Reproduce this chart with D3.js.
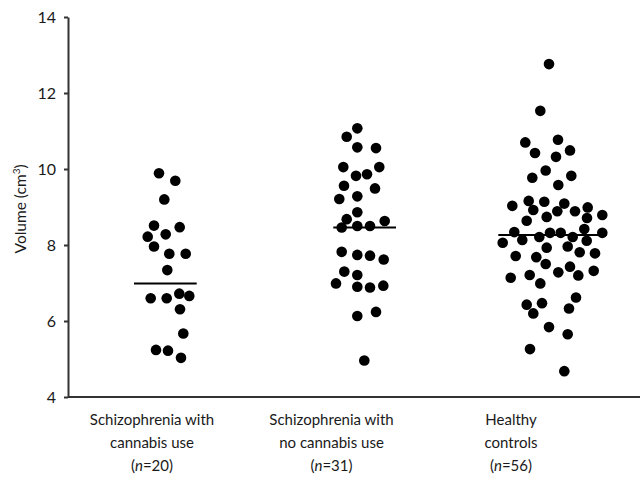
<!DOCTYPE html>
<html>
<head>
<meta charset="utf-8">
<script src="https://cdn.jsdelivr.net/npm/d3@7"></script>
<style>
  body { margin: 0; background: #fff; }
  text { font-family: Lato, "Open Sans", sans-serif; fill: #1a1a1a; }
  .axis path, .axis line { stroke: #333; stroke-width: 2; }
</style>
</head>
<body>
<div id="chart"></div>
<script>
const width = 640;
const height = 483;
const margin = { top: 17, right: 0, bottom: 86, left: 68 };

const groups = ["cannabis", "noCannabis", "controls"];
const labelLine1 = ["Schizophrenia with", "Schizophrenia with", "Healthy"];
const labelLine2 = ["cannabis use", "no cannabis use", "controls"];
const groupN = [20, 31, 56];
const yTicks = [4, 6, 8, 10, 12, 14];

// volumes (cm3), with horizontal jitter (about one dot width per unit)
const cannabisVol = [9.89, 9.69, 9.20, 8.51, 8.47, 8.22, 8.28, 7.96, 7.77, 7.77, 7.34,
  6.60, 6.60, 6.72, 6.66, 6.31, 5.67, 5.24, 5.22, 5.03];
const cannabisJit = [-0.43, 1.2, 0.1, -0.93, 1.64, -1.56, 0.24, -0.93, 0.6, 2.24, 0.4,
  -1.26, 0.34, 1.6, 2.6, 1.67, 2.0, -0.73, 0.47, 1.77];

const noCannabisVol = [11.07, 10.85, 10.57, 10.55, 10.05, 10.05, 9.82, 9.86, 9.56, 9.49,
  9.21, 9.28, 8.86, 8.68, 8.63, 8.46, 8.50, 8.50, 7.82, 7.74, 7.72, 7.62, 7.30, 7.21,
  6.99, 6.90, 6.88, 6.93, 6.24, 6.13, 4.96];
const noCannabisJit = [0.33, -0.73, 0.33, 2.2, -1.07, 2.53, 0.2, 1.3, -1.0, 2.1,
  -1.47, 0.33, 0.33, -0.73, 3.07, -1.23, 0.33, 1.6, -1.23, 0.33, 1.6, 2.97, -0.97, 0.33,
  -1.8, 0.33, 1.6, 2.93, 2.2, 0.33, 1.03];

const controlsVol = [12.76, 11.53, 10.70, 10.77, 10.42, 10.49, 10.32, 9.96, 9.77, 9.82,
  9.58, 9.03, 9.16, 9.14, 9.09, 8.92, 8.89, 8.89, 8.99, 8.74, 8.71, 8.79, 8.64, 8.42,
  8.34, 8.32, 8.32, 8.32, 8.06, 8.13, 8.21, 8.21, 8.11, 7.93, 7.96, 7.71, 7.68, 7.81,
  7.78, 7.50, 7.43, 7.14, 7.21, 7.28, 7.20, 7.32, 6.99, 6.62, 6.43, 6.47, 6.33, 6.20,
  5.84, 5.65, 5.26, 4.68];
const controlsJit = [0.43, -0.44, -1.94, 1.33, -0.97, 2.53, 1.13, 0.1, -1.24, 2.66,
  1.36, -3.24, -1.6, -0.04, 1.96, -1.14, 1.26, 3.03, 4.3, 0.2, 4.23, 5.76, -1.8, 3.96,
  -3.04, 0.53, 1.6, 5.76, -4.2, -2.24, -0.54, 2.8, 4.2, 0.2, 2.3, -2.9, -0.84, 3.5,
  5.03, 0.1, 2.53, -3.4, -1.5, 1.36, 3.36, 4.9, -0.44, 3.13, -1.8, -0.27, 2.43, -1.14,
  0.43, 2.3, -1.47, 1.96];

// each swarm sits a little right of its label, in jitter units
const swarmShift = [1.13, 2.25, 3.37];
const groupMean = [6.99, 8.46, 8.26];
const meanLo = [-2.93, -2.07, -4.64];
const meanHi = [3.34, 4.2, 6.2];

const volumes = [cannabisVol, noCannabisVol, controlsVol];
const jitters = [cannabisJit, noCannabisJit, controlsJit];

const points = [];
groups.forEach((g, i) => {
  volumes[i].forEach((v, j) => points.push({ group: g, vol: v, jit: jitters[i][j] + swarmShift[i] }));
});

const svg = d3.select("#chart")
  .append("svg")
  .attr("width", width)
  .attr("height", height);

const x = d3.scalePoint().domain(groups).range([152, 511]);
const jx = d3.scaleLinear().domain([-1, 1]).range([-10, 10]);
const y = d3.scaleLinear().domain([4, 14]).range([height - margin.bottom, margin.top]);

// x axis: just the baseline
svg.append("g")
  .attr("class", "axis")
  .attr("transform", `translate(0,${y(4)})`)
  .call(g => g.append("path")
    .attr("d", `M${margin.left},0H${width}`)
    .attr("fill", "none"));

svg.append("g")
  .attr("class", "axis")
  .attr("transform", `translate(${margin.left},0)`)
  .call(d3.axisLeft(y).tickValues(yTicks).tickSize(4).tickSizeOuter(0).tickPadding(8))
  .selectAll("text")
  .style("font-size", "16px")
  .attr("fill", "#1a1a1a");

svg.append("text")
  .attr("transform", `translate(21,${y(8.95)}) rotate(-90)`)
  .attr("text-anchor", "middle")
  .attr("dy", "0.35em")
  .style("font-size", "15.5px")
  .text("Volume (cm")
  .call(t => {
    t.append("tspan").attr("baseline-shift", "super").style("font-size", "10px").text("3");
    t.append("tspan").text(")");
  });

// dots
svg.append("g")
  .selectAll(".dot")
  .data(points)
  .enter().append("circle")
  .attr("class", "dot")
  .attr("cx", d => x(d.group) + jx(d.jit))
  .attr("cy", d => y(d.vol))
  .attr("r", 5.3)
  .attr("fill", "#000");

// mean lines
svg.append("g")
  .selectAll(".mean")
  .data(groups)
  .enter().append("line")
  .attr("class", "mean")
  .attr("x1", (d, i) => x(d) + jx(meanLo[i] + swarmShift[i]))
  .attr("x2", (d, i) => x(d) + jx(meanHi[i] + swarmShift[i]))
  .attr("y1", (d, i) => y(groupMean[i]))
  .attr("y2", (d, i) => y(groupMean[i]))
  .attr("stroke", "#000")
  .attr("stroke-width", 2);

// category labels
const labels = svg.append("g")
  .selectAll(".cat")
  .data(groups)
  .enter().append("text")
  .attr("class", "cat")
  .attr("text-anchor", "middle")
  .style("font-size", "15px");

labels.append("tspan")
  .attr("x", d => x(d))
  .attr("y", 425)
  .text((d, i) => labelLine1[i]);
labels.append("tspan")
  .attr("x", d => x(d))
  .attr("y", 448)
  .text((d, i) => labelLine2[i]);
labels.append("tspan")
  .attr("x", d => x(d))
  .attr("y", 471)
  .text("(");
labels.append("tspan")
  .style("font-style", "italic")
  .text("n");
labels.append("tspan")
  .text((d, i) => "=" + groupN[i] + ")");
</script>
</body>
</html>
